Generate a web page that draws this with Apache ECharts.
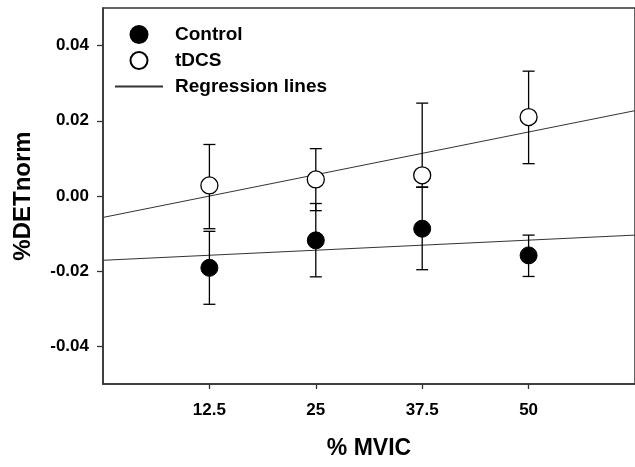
<!DOCTYPE html>
<html>
<head>
<meta charset="utf-8">
<script src="https://cdn.jsdelivr.net/npm/echarts@6/dist/echarts.min.js"></script>
<style>
html, body { margin: 0; padding: 0; background: #fff; }
#chart { width: 635px; height: 467px; }
</style>
</head>
<body>
<div id="chart"></div>
<script>
// ---- data ----
const mvic = [12.5, 25, 37.5, 50];
const controlMean  = [-0.0191, -0.0118, -0.0087, -0.0158];
const controlUpper = [-0.0094, -0.0020,  0.0023, -0.0104];
const controlLower = [-0.0288, -0.0215, -0.0196, -0.0214];
const tdcsMean  = [0.0028, 0.0044, 0.0055, 0.0210];
const tdcsUpper = [0.0137, 0.0126, 0.0247, 0.0332];
const tdcsLower = [-0.0087, -0.0039, 0.0024, 0.0086];
const regX = [0, 62.5];
const controlReg = [-0.0171, -0.0104];
const tdcsReg = [-0.0057, 0.0227];
const xTicks = [12.5, 25, 37.5, 50];
const yTicks = [-0.04, -0.02, 0, 0.02, 0.04];

const FONT = '"Liberation Sans", Arial, sans-serif';
const AXIS_COLOR = '#333';

function pairs(xs, ys) { return xs.map((x, i) => [x, ys[i]]); }
function errData(xs, lo, hi) { return xs.map((x, i) => [x, lo[i], hi[i]]); }

function errRender(params, api) {
  const x = api.value(0), lo = api.value(1), hi = api.value(2);
  const pLo = api.coord([x, lo]);
  const pHi = api.coord([x, hi]);
  const hw = 6;
  const style = { stroke: '#000', lineWidth: 1.3, fill: null };
  return {
    type: 'group',
    children: [
      { type: 'line', shape: { x1: pLo[0], y1: pLo[1], x2: pHi[0], y2: pHi[1] }, style },
      { type: 'line', shape: { x1: pLo[0] - hw, y1: pLo[1], x2: pLo[0] + hw, y2: pLo[1] }, style },
      { type: 'line', shape: { x1: pHi[0] - hw, y1: pHi[1], x2: pHi[0] + hw, y2: pHi[1] }, style }
    ]
  };
}

const chart = echarts.init(document.getElementById('chart'), null, { renderer: 'canvas' });
chart.setOption({
  animation: false,
  backgroundColor: '#fff',
  textStyle: { fontFamily: FONT },
  grid: {
    left: 103, top: 8, width: 536, height: 376,
    show: true, borderColor: AXIS_COLOR, borderWidth: 1.5, backgroundColor: 'transparent'
  },
  legend: {
    data: ['Control', 'tDCS', 'Regression lines'],
    orient: 'vertical',
    left: 114, top: 25,
    padding: 0,
    itemWidth: 48, itemHeight: 17, itemGap: 7,
    selectedMode: false,
    textStyle: { fontFamily: FONT, fontWeight: 'bold', fontSize: 19, color: '#000', padding: [0, 0, 0, 7] }
  },
  xAxis: {
    type: 'value', min: 0, max: 62.5,
    name: '% MVIC', nameLocation: 'middle', nameGap: 53,
    nameTextStyle: { fontFamily: FONT, fontWeight: 'bold', fontSize: 23, color: '#000' },
    axisLine: { show: true, onZero: false, lineStyle: { color: AXIS_COLOR, width: 1.5 } },
    axisTick: { show: true, length: 5, customValues: xTicks, lineStyle: { color: AXIS_COLOR, width: 1.3 } },
    axisLabel: { customValues: xTicks, margin: 18, fontFamily: FONT, fontWeight: 'bold', fontSize: 17, color: '#000',
      formatter: v => String(v) },
    splitLine: { show: false }
  },
  yAxis: {
    type: 'value', min: -0.05, max: 0.05,
    name: '%DETnorm', nameLocation: 'middle', nameGap: 68, nameRotate: 90,
    nameTextStyle: { fontFamily: FONT, fontWeight: 'bold', fontSize: 24, color: '#000' },
    axisLine: { show: true, onZero: false, lineStyle: { color: AXIS_COLOR, width: 1.5 } },
    axisTick: { show: true, length: 6, customValues: yTicks, lineStyle: { color: AXIS_COLOR, width: 1.3 } },
    axisLabel: { customValues: yTicks, margin: 14, fontFamily: FONT, fontWeight: 'bold', fontSize: 17, color: '#000',
      formatter: v => v.toFixed(2) },
    splitLine: { show: false }
  },
  series: [
    {
      name: 'Regression lines', type: 'line', data: pairs(regX, controlReg),
      symbol: 'none', lineStyle: { color: '#333', width: 1 }, itemStyle: { color: '#333', opacity: 0 }, z: 2
    },
    {
      name: 'Regression lines', type: 'line', data: pairs(regX, tdcsReg),
      symbol: 'none', lineStyle: { color: '#333', width: 1 }, itemStyle: { color: '#333', opacity: 0 }, z: 2
    },
    {
      name: 'ControlErr', type: 'custom', data: errData(mvic, controlLower, controlUpper),
      renderItem: errRender, encode: { x: 0, y: [1, 2] }, z: 3
    },
    {
      name: 'tDCSErr', type: 'custom', data: errData(mvic, tdcsLower, tdcsUpper),
      renderItem: errRender, encode: { x: 0, y: [1, 2] }, z: 3
    },
    {
      name: 'Control', type: 'scatter', data: pairs(mvic, controlMean),
      symbol: 'circle', symbolSize: 17,
      itemStyle: { color: '#000', borderColor: '#000', borderWidth: 1, opacity: 1 }, z: 5
    },
    {
      name: 'tDCS', type: 'scatter', data: pairs(mvic, tdcsMean),
      symbol: 'circle', symbolSize: 17,
      itemStyle: { color: '#fff', borderColor: '#000', borderWidth: 1.3, opacity: 1 }, z: 5
    }
  ]
});
</script>
</body>
</html>
